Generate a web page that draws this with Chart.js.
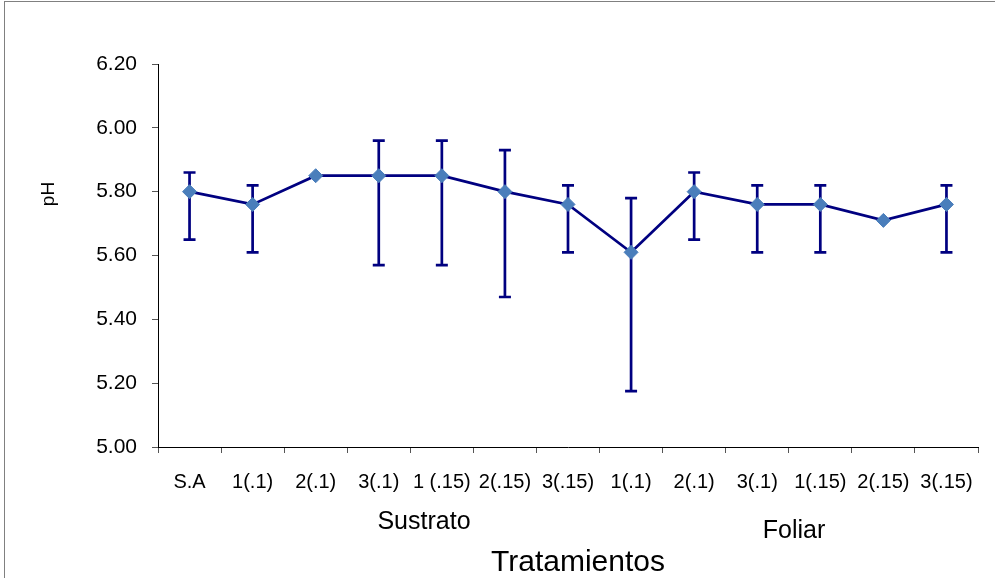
<!DOCTYPE html>
<html>
<head>
<meta charset="utf-8">
<script src="https://cdn.jsdelivr.net/npm/chart.js@4.4.1/dist/chart.umd.min.js"></script>
<style>
  html, body { margin: 0; padding: 0; background: #fff; }
  #wrap { width: 995px; height: 578px; }
</style>
</head>
<body>
<div id="wrap"><canvas id="phChart" width="995" height="578"></canvas></div>
<script>
// data
var categories = ['S.A', '1(.1)', '2(.1)', '3(.1)', '1 (.15)', '2(.15)', '3(.15)', '1(.1)', '2(.1)', '3(.1)', '1(.15)', '2(.15)', '3(.15)'];
var phMean  = [5.80, 5.76, 5.85, 5.85, 5.85, 5.80, 5.76, 5.61, 5.80, 5.76, 5.76, 5.71, 5.76];
var phUpper = [5.86, 5.82, 5.85, 5.96, 5.96, 5.93, 5.82, 5.78, 5.86, 5.82, 5.82, 5.71, 5.82];
var phLower = [5.65, 5.61, 5.85, 5.57, 5.57, 5.47, 5.61, 5.175, 5.65, 5.61, 5.61, 5.71, 5.61];
var yTicks  = [5.00, 5.20, 5.40, 5.60, 5.80, 6.00, 6.20];

var FONT = 'Arial, "Liberation Sans", sans-serif';
var NAVY = '#000080';

// vertical error bars with caps, drawn under the line and markers
var errorBars = {
  id: 'errorBars',
  beforeDatasetsDraw: function(chart) {
    var ctx = chart.ctx, xs = chart.scales.x, ys = chart.scales.y;
    ctx.save();
    ctx.strokeStyle = NAVY;
    ctx.lineWidth = 2.7;
    for (var i = 0; i < phMean.length; i++) {
      if (phUpper[i] === phLower[i]) continue;
      var px = xs.getPixelForValue(i);
      var top = ys.getPixelForValue(phUpper[i]);
      var bot = ys.getPixelForValue(phLower[i]);
      ctx.beginPath();
      ctx.moveTo(px, top); ctx.lineTo(px, bot);
      ctx.moveTo(px - 6, top); ctx.lineTo(px + 6, top);
      ctx.moveTo(px - 6, bot); ctx.lineTo(px + 6, bot);
      ctx.stroke();
    }
    ctx.restore();
  }
};

// frame, axis titles and group labels
var extraText = {
  id: 'extraText',
  afterDraw: function(chart) {
    var ctx = chart.ctx;
    ctx.save();
    ctx.strokeStyle = '#808080';
    ctx.lineWidth = 1;
    ctx.strokeRect(4.5, 1.5, 1100, 700);

    ctx.fillStyle = '#000';
    ctx.textAlign = 'center';
    ctx.textBaseline = 'middle';

    ctx.save();
    ctx.translate(49, 194);
    ctx.rotate(-Math.PI / 2);
    ctx.font = '19px ' + FONT;
    ctx.fillText('pH', 0, 0);
    ctx.restore();

    ctx.font = '25px ' + FONT;
    ctx.fillText('Sustrato', 424, 522);
    ctx.fillText('Foliar', 794, 531);

    ctx.font = '30px ' + FONT;
    ctx.fillText('Tratamientos', 578, 563);
    ctx.restore();
  }
};

new Chart(document.getElementById('phChart'), {
  type: 'line',
  data: {
    labels: categories,
    datasets: [{
      data: phMean,
      borderColor: NAVY,
      borderWidth: 2.7,
      tension: 0,
      fill: false,
      pointStyle: 'rectRot',
      pointRadius: 7,
      pointBackgroundColor: '#4a7ebb',
      pointBorderColor: '#4a7ebb',
      pointBorderWidth: 1
    }]
  },
  options: {
    responsive: false,
    animation: false,
    layout: { padding: { left: 0, top: 64, right: 17, bottom: 0 } },
    plugins: {
      legend: { display: false },
      tooltip: { enabled: false }
    },
    scales: {
      x: {
        offset: true,
        grid: {
          offset: true,
          drawOnChartArea: false,
          tickLength: 6,
          color: '#555'
        },
        border: { color: '#000', width: 1 },
        ticks: {
          color: '#000',
          font: { family: FONT, size: 20 },
          padding: 17,
          maxRotation: 0,
          autoSkip: false
        },
        afterFit: function(scale) { scale.height = 131; }
      },
      y: {
        min: 5,
        max: 6.2,
        afterBuildTicks: function(scale) {
          scale.ticks = yTicks.map(function(v) { return { value: v }; });
        },
        grid: {
          drawOnChartArea: false,
          tickLength: 6,
          color: '#555'
        },
        border: { color: '#000', width: 1 },
        ticks: {
          color: '#000',
          font: { family: FONT, size: 21 },
          padding: 15,
          callback: function(v) { return Number(v).toFixed(2); }
        },
        afterFit: function(scale) { scale.width = 158; }
      }
    }
  },
  plugins: [errorBars, extraText]
});
</script>
</body>
</html>
